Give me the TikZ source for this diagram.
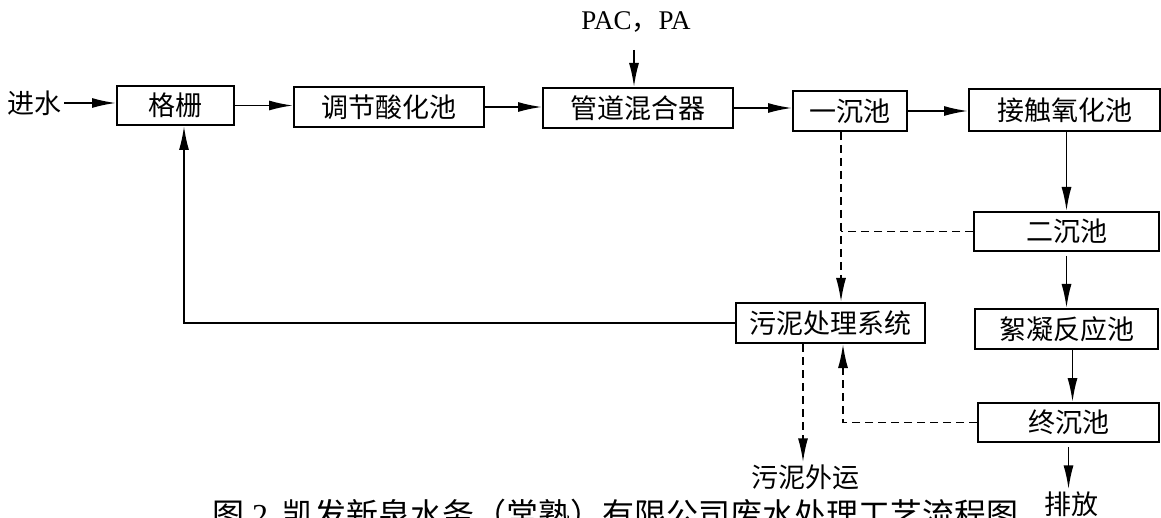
\documentclass[tikz,border=0pt]{standalone}
\usepackage{fontspec}
\setmainfont{Liberation Serif}
\newfontfamily\cjk{Noto Sans CJK SC}
\usetikzlibrary{arrows.meta}
\tikzset{
  procbox/.style={draw, line width=2pt, inner sep=0pt, font=\cjk\fontsize{27}{32}\selectfont},
  plain/.style={inner sep=2pt, font=\cjk\fontsize{27}{32}\selectfont},
  arr/.style={line width=1.8pt, -{Latex[length=24pt,width=10pt]}},
  darr/.style={line width=1.8pt, dash pattern=on 8pt off 5pt, -{Latex[length=24pt,width=10pt]}},
  dline/.style={line width=1.8pt, dash pattern=on 8pt off 5pt}
}
\begin{document}
\begin{tikzpicture}[x=1pt,y=-1pt]
\useasboundingbox (0,0) rectangle (1161,518);
% nodes
\node[plain] (jin) at (35,103) {进水};
\node[procbox, minimum width=117pt, minimum height=39pt] (gs) at (175.5,105.5) {格栅};
\node[procbox, minimum width=190pt, minimum height=40pt] (tj) at (389,107) {调节酸化池};
\node[procbox, minimum width=190pt, minimum height=40pt] (gd) at (638,108) {管道混合器};
\node[procbox, minimum width=114pt, minimum height=40pt] (yc) at (850,111) {一沉池};
\node[procbox, minimum width=191pt, minimum height=42pt] (jc) at (1064.5,110) {接触氧化池};
\node[procbox, minimum width=185pt, minimum height=39pt] (ec) at (1066.5,231.5) {二沉池};
\node[procbox, minimum width=183pt, minimum height=40pt] (xn) at (1066.5,329) {絮凝反应池};
\node[procbox, minimum width=181pt, minimum height=39pt] (zc) at (1068.5,422.5) {终沉池};
\node[procbox, minimum width=189pt, minimum height=40pt] (wn) at (830.5,323) {污泥处理系统};
\node[inner sep=0pt, font=\fontsize{27}{32}\selectfont] (pac) at (636,22) {PAC{\cjk ，}PA};
\node[plain] (wy) at (805,477) {污泥外运};
\node[plain] (pf) at (1071,504) {排放};
\node[anchor=base west, inner sep=0pt, font=\fontsize{32}{36}\selectfont] (cap) at (212,526)
  {{\cjk 图}\hspace{8pt}2\hspace{14pt}{\cjk 凯发新泉水务（常熟）有限公司废水处理工艺流程图}};
% coordinates
\coordinate (pacend) at (634,50);
\coordinate (d1) at ([xshift=-9pt]yc.south);
\coordinate (d2) at ([xshift=-27.5pt]wn.south);
\coordinate (d3) at ([xshift=12.5pt]wn.south);
\coordinate (r1) at ([xshift=8.5pt]gs.south);
% main flow
\draw[arr] (jin.east) -- (jin.east -| gs.west);
\draw[arr] (gs.east) -- (gs.east -| tj.west);
\draw[arr] (tj.east) -- (tj.east -| gd.west);
\draw[arr] (gd.east) -- (gd.east -| yc.west);
\draw[arr] (yc.east) -- (yc.east -| jc.west);
\draw[arr] (pacend) -- (pacend |- gd.north);
\draw[arr] ([xshift=2pt]jc.south) -- ([xshift=2pt]jc.south |- ec.north);
\draw[arr] ([yshift=-4pt]ec.south) -- (ec.south |- xn.north);
\draw[arr] ([xshift=6pt]xn.south) -- ([xshift=6pt]xn.south |- zc.north);
\draw[arr] ([yshift=-4pt]zc.south) -- (zc.south |- pf.north);
% sludge
\draw[darr] (d1) -- (d1 |- wn.north);
\draw[dline] (ec.west) -- (ec.west -| d1);
\draw[darr] (d2) -- (d2 |- wy.north);
\draw[darr] (zc.west) -| (d3);
\draw[arr] (wn.west) -| (r1);
\end{tikzpicture}
\end{document}
